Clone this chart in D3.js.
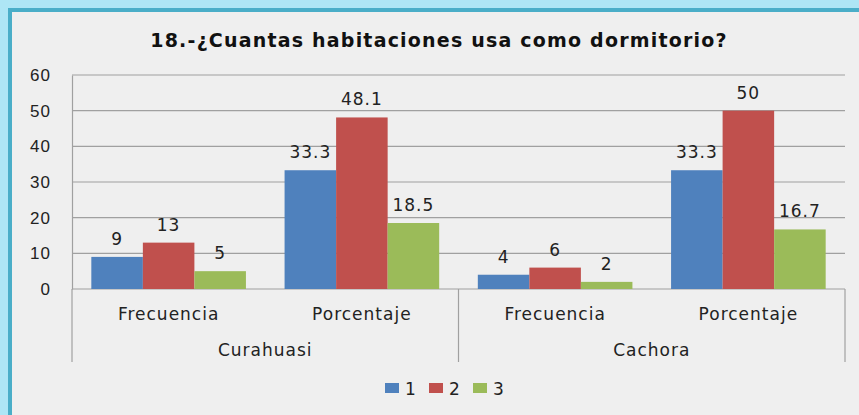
<!DOCTYPE html>
<html>
<head>
<meta charset="utf-8">
<script src="https://cdn.jsdelivr.net/npm/d3@7"></script>
<style>
  body { margin: 0; background: #aee6f5; }
  svg { display: block; font-family: "DejaVu Sans", Verdana, sans-serif; }
  .lbl { font-size: 17px; letter-spacing: 1px; fill: #222; }
</style>
</head>
<body>
<div id="chart"></div>
<script>
// data
var places = ["Curahuasi", "Cachora"];
var measures = ["Frecuencia", "Porcentaje"];
var seriesNames = ["1", "2", "3"];
var colors = ["#4f81bd", "#c0504d", "#9bbb59"];
var values1 = [9, 33.3, 4, 33.3];
var values2 = [13, 48.1, 6, 50];
var values3 = [5, 18.5, 2, 16.7];
var yTicks = [0, 10, 20, 30, 40, 50, 60];

drawChart();

function drawChart() {
    var W = 859, H = 415;
    var margin = { top: 75, right: 14, bottom: 126, left: 72 },
        width = W - margin.left - margin.right,
        height = H - margin.top - margin.bottom;

    var root = d3.select("#chart")
        .append("svg")
        .attr("width", W)
        .attr("height", H);

    // frame
    root.append("rect")
        .attr("x", 10).attr("y", 10)
        .attr("width", W).attr("height", H)
        .attr("fill", "#efefef")
        .attr("stroke", "#4aaec8")
        .attr("stroke-width", 4);

    root.append("text")
        .attr("x", 439)
        .attr("y", 47)
        .attr("text-anchor", "middle")
        .style("font-size", "19px")
        .style("letter-spacing", "1.2px")
        .style("font-weight", "bold")
        .attr("fill", "#111")
        .text("18.-¿Cuantas habitaciones usa como dormitorio?");

    var svg = root.append("g")
        .attr("transform", "translate(" + margin.left + "," + margin.top + ")");

    // categories: place + measure
    var cats = [];
    places.forEach(function (p) {
        measures.forEach(function (m) { cats.push(p + "|" + m); });
    });
    var rows = cats.map(function (c, i) {
        return { key: c, vals: [values1[i], values2[i], values3[i]] };
    });

    var x0 = d3.scaleBand().domain(cats).range([0, width]).paddingInner(0.2).paddingOuter(0.1);
    var outer = d3.scaleBand().domain(cats).range([0, width]);
    var x1 = d3.scaleBand().domain(seriesNames).range([0, x0.bandwidth()]);
    var y = d3.scaleLinear().domain([0, 60]).range([height, 0]);

    // gridlines
    svg.append("g")
        .selectAll("line")
        .data(yTicks)
        .enter().append("line")
        .attr("x1", 0).attr("x2", width)
        .attr("y1", function (d) { return y(d); })
        .attr("y2", function (d) { return y(d); })
        .attr("stroke", "#a0a0a0")
        .attr("stroke-width", 1.2);

    // y axis
    var yAxis = svg.append("g")
        .call(d3.axisLeft(y).tickValues(yTicks).tickSize(0).tickPadding(21));
    yAxis.select(".domain").attr("stroke", "#a0a0a0").attr("stroke-width", 1.2);
    yAxis.selectAll("text").attr("class", "lbl").attr("fill", null);

    // bars
    var groups = svg.selectAll("g.cat")
        .data(rows)
        .enter().append("g")
        .attr("class", "cat")
        .attr("transform", function (d) { return "translate(" + x0(d.key) + ",0)"; });

    groups.selectAll("rect")
        .data(function (d) { return d.vals.map(function (v, i) { return { s: seriesNames[i], v: v, i: i }; }); })
        .enter().append("rect")
        .attr("x", function (d) { return x1(d.s); })
        .attr("y", function (d) { return y(d.v); })
        .attr("width", x1.bandwidth())
        .attr("height", function (d) { return height - y(d.v); })
        .attr("fill", function (d) { return colors[d.i]; });

    groups.selectAll("text")
        .data(function (d) { return d.vals.map(function (v, i) { return { s: seriesNames[i], v: v }; }); })
        .enter().append("text")
        .attr("class", "lbl")
        .attr("x", function (d) { return x1(d.s) + x1.bandwidth() / 2; })
        .attr("y", function (d) { return y(d.v) - 12; })
        .attr("text-anchor", "middle")
        .text(function (d) { return d.v; });

    // multi-level category axis
    var axisBottom = height + 73;
    var seps = [0, outer(cats[2]), width];
    svg.append("g")
        .selectAll("line")
        .data(seps)
        .enter().append("line")
        .attr("x1", function (d) { return d; })
        .attr("x2", function (d) { return d; })
        .attr("y1", height)
        .attr("y2", axisBottom)
        .attr("stroke", "#a0a0a0")
        .attr("stroke-width", 1.2);

    svg.append("g")
        .selectAll("text")
        .data(cats)
        .enter().append("text")
        .attr("class", "lbl")
        .attr("x", function (d) { return outer(d) + outer.bandwidth() / 2; })
        .attr("y", height + 31)
        .attr("text-anchor", "middle")
        .text(function (d) { return d.split("|")[1]; });

    svg.append("g")
        .selectAll("text")
        .data(places)
        .enter().append("text")
        .attr("class", "lbl")
        .attr("x", function (d, i) { return (seps[i] + seps[i + 1]) / 2; })
        .attr("y", height + 67)
        .attr("text-anchor", "middle")
        .text(function (d) { return d; });

    // legend
    var legend = root.append("g")
        .attr("transform", "translate(385,383)");
    var items = legend.selectAll("g")
        .data(seriesNames)
        .enter().append("g")
        .attr("transform", function (d, i) { return "translate(" + (i * 44) + ",0)"; });
    items.append("rect")
        .attr("width", 14).attr("height", 10)
        .attr("fill", function (d, i) { return colors[i]; });
    items.append("text")
        .attr("class", "lbl")
        .attr("x", 20).attr("y", 12)
        .text(function (d) { return d; });
}
</script>
</body>
</html>
